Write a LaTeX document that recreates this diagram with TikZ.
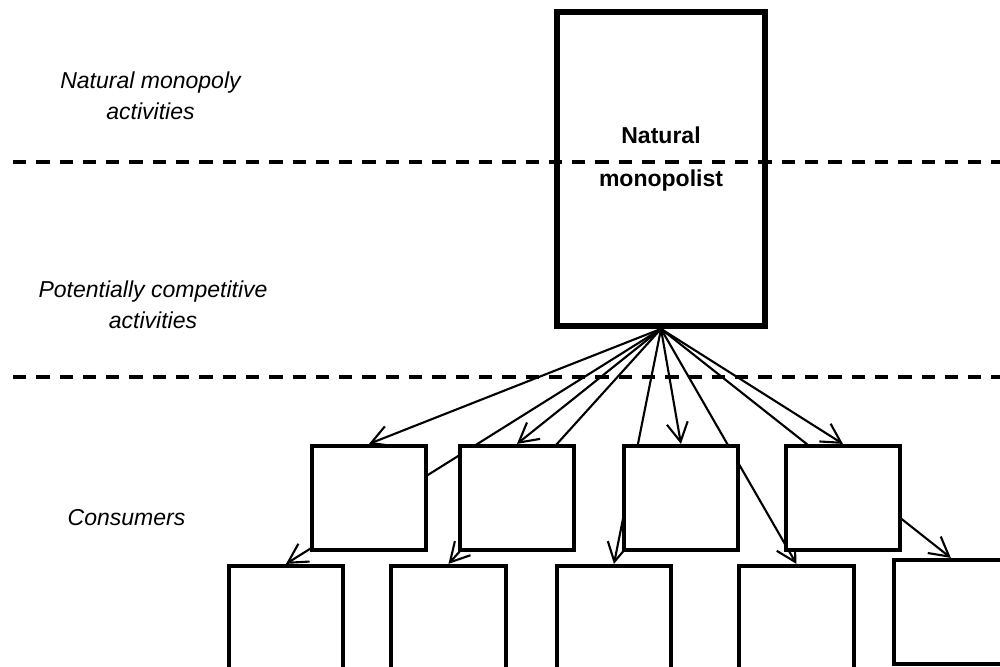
\documentclass[tikz,border=0pt]{standalone}
\usepackage{fontspec}
\setmainfont{Liberation Sans}
\usetikzlibrary{positioning,arrows.meta,backgrounds}
\tikzstyle{incumbent} = [rectangle, minimum width=4.16cm, minimum height=6.28cm, inner sep=0pt, line width=3.3pt, draw=black, align=center, text height=1.22cm, text depth=0.5cm, font=\fontsize{13.1}{25}\selectfont\bfseries]
\tikzstyle{firm} = [rectangle, minimum width=2.29cm, minimum height=2.08cm, line width=2.4pt, draw=black, fill=white]
\tikzstyle{zone} = [align=center, inner sep=0pt, font=\fontsize{13.1}{17.6}\selectfont\itshape]
\tikzstyle{divider} = [line width=2pt, dash pattern=on 0.266cm off 0.2cm]
\tikzstyle{arrow} = [line width=1.2pt, -{Straight Barb[length=3.8mm,width=4.2mm]}]

\begin{document}
\begin{tikzpicture}[x=0.02cm, y=-0.02cm, node distance=3.2cm]
\useasboundingbox (0,0) rectangle (1000,666);

\node (mono) [incumbent] at (661,169) {Natural\\monopolist};

\node (f1) [firm] at (369,498) {};
\node (f2) [firm, right of=f1, xshift=-0.24cm] {};
\node (f3) [firm, right of=f2, xshift=0.08cm] {};
\node (f4) [firm, right of=f3, xshift=0.04cm] {};

\node (c1) [firm] at (286,618) {};
\node (c2) [firm, right of=c1, xshift=0.05cm] {};
\node (c3) [firm, right of=c2, xshift=0.11cm] {};
\node (c4) [firm, right of=c3, xshift=0.45cm] {};
\node (c5) [firm, right of=c4, xshift=-0.11cm, yshift=0.12cm] {};

\node (toplbl) [zone, anchor=base] at (150.5,119) {Natural monopoly\\activities};
\node (midlbl) [zone, anchor=base] at (153,328) {Potentially competitive\\activities};
\node (botlbl) [zone, anchor=base] at (126.5,525) {Consumers};

\draw [divider] (13,162) -- (1000,162);
\draw [divider] (13,377) -- (1000,377);

\begin{scope}[on background layer]
\draw [arrow] (mono.south) -- (f1.north);
\draw [arrow] (mono.south) -- (c1.north);
\draw [arrow] (mono.south) -- (f2.north);
\draw [arrow] (mono.south) -- (c2.north);
\draw [arrow] (mono.south) -- (c3.north);
\draw [arrow] (mono.south) -- (f3.north);
\draw [arrow] (mono.south) -- (c4.north);
\draw [arrow] (mono.south) -- (c5.north);
\draw [arrow] (mono.south) -- (f4.north);
\end{scope}
\end{tikzpicture}
\end{document}
